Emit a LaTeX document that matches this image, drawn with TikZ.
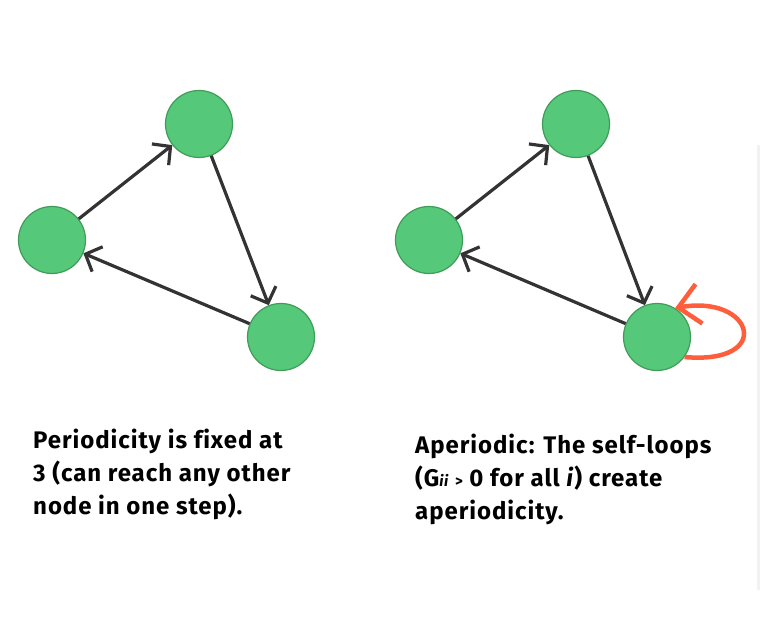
\documentclass[tikz,border=0pt]{standalone}
\usepackage{fontspec}
\setmainfont{Fira Sans}
\newfontfamily\capfont[LetterSpace=4, Ligatures=CommonOff]{Fira Sans}
\usepackage{xcolor}
\usetikzlibrary{positioning, arrows.meta, calc}

\definecolor{nodegreen}{HTML}{55C979}
\definecolor{nodeedge}{HTML}{3E9C58}
\definecolor{arrowgray}{HTML}{333333}
\definecolor{loopred}{HTML}{FF5E3C}

\begin{document}
\begin{tikzpicture}[x=1pt, y=1pt,
    state/.style={circle, draw=nodeedge, line width=1.2pt, fill=nodegreen, minimum size=67pt, inner sep=0pt},
    trans/.style={draw=arrowgray, line width=3.2pt, -{Straight Barb[length=13pt, width=27pt]}},
    selfloop/.style={draw=loopred, line width=4.5pt, -{Straight Barb[length=21pt, width=40pt]}},
    caption/.style={anchor=base west, align=left, inner sep=0pt, font=\capfont\fontsize{24}{33.3}\selectfont\bfseries}]
    \useasboundingbox (0,0) rectangle (760,642);
    \fill[black!5] (757,52) rectangle (760,497);

    % periodic chain
    \node[state] (a1) at (52,402) {};
    \node[state] (a2) at (199,518) {};
    \node[state] (a3) at (281,305) {};
    \draw[trans] (a1) -- (a2);
    \draw[trans] (a2) -- (a3);
    \draw[trans] (a3) -- (a1);

    % aperiodic chain
    \node[state] (b1) at (429,402) {};
    \node[state] (b2) at (576,518) {};
    \node[state] (b3) at (657,305) {};
    \draw[trans] (b1) -- (b2);
    \draw[trans] (b2) -- (b3);
    \draw[trans] (b3) -- (b1);
    \draw[selfloop] (b3.-36) .. controls +(-5:90) and +(10:80) .. (b3.58);

    % captions (base = last line)
    \node[caption] (capa) at (33,127) {Periodicity is fixed at\\3 (can reach any other\\node in one step).};
    \node[caption] (capb) at (415,122) {Aperiodic: The self-loops\\(G{\fontsize{15}{15}\selectfont\itshape ii} {\fontsize{15}{15}\selectfont >} 0 for all \textit{i}) create\\aperiodicity.};
\end{tikzpicture}
\end{document}
